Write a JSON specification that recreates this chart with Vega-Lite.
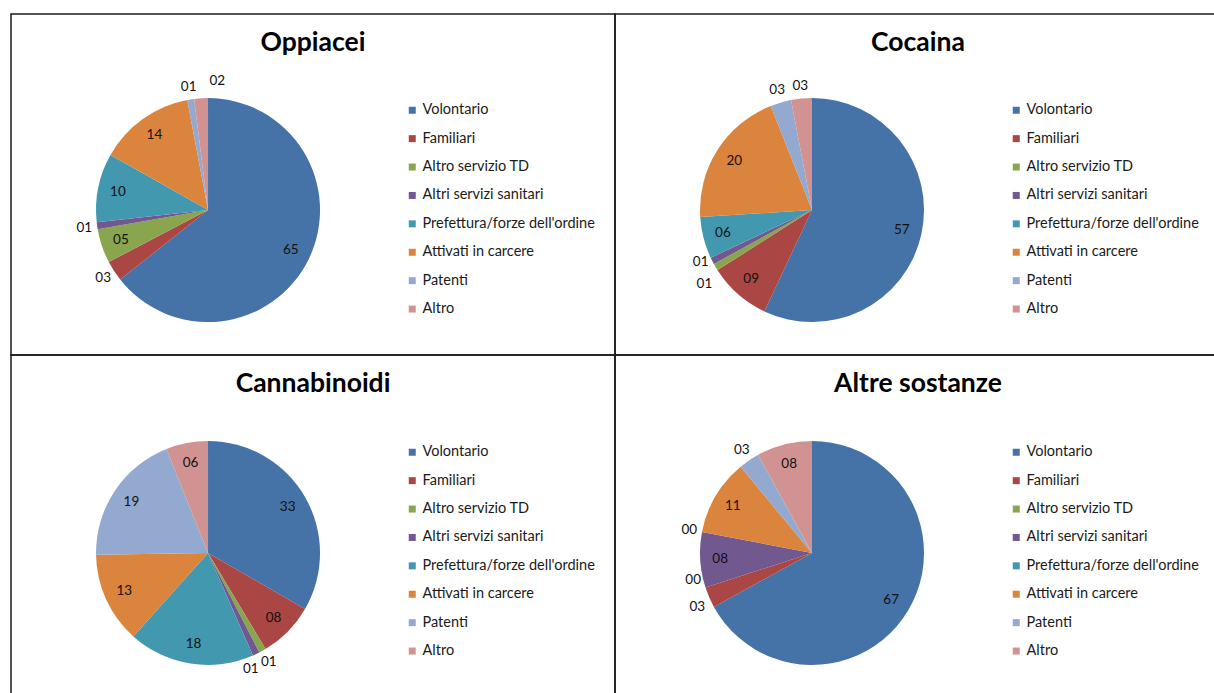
{
  "$schema": "https://vega.github.io/schema/vega-lite/v6.json",
  "background": "white",
  "padding": {"left": 10, "top": 13, "right": 0, "bottom": 0},
  "autosize": {"type": "pad"},
  "datasets": {
    "invii": [
      {"sostanza": "Oppiacei", "n": 1, "fonte": "Volontario", "valore": 65},
      {"sostanza": "Oppiacei", "n": 2, "fonte": "Familiari", "valore": 3},
      {"sostanza": "Oppiacei", "n": 3, "fonte": "Altro servizio TD", "valore": 5},
      {"sostanza": "Oppiacei", "n": 4, "fonte": "Altri servizi sanitari", "valore": 1},
      {"sostanza": "Oppiacei", "n": 5, "fonte": "Prefettura/forze dell'ordine", "valore": 10},
      {"sostanza": "Oppiacei", "n": 6, "fonte": "Attivati in carcere", "valore": 14},
      {"sostanza": "Oppiacei", "n": 7, "fonte": "Patenti", "valore": 1},
      {"sostanza": "Oppiacei", "n": 8, "fonte": "Altro", "valore": 2},
      {"sostanza": "Cocaina", "n": 1, "fonte": "Volontario", "valore": 57},
      {"sostanza": "Cocaina", "n": 2, "fonte": "Familiari", "valore": 9},
      {"sostanza": "Cocaina", "n": 3, "fonte": "Altro servizio TD", "valore": 1},
      {"sostanza": "Cocaina", "n": 4, "fonte": "Altri servizi sanitari", "valore": 1},
      {"sostanza": "Cocaina", "n": 5, "fonte": "Prefettura/forze dell'ordine", "valore": 6},
      {"sostanza": "Cocaina", "n": 6, "fonte": "Attivati in carcere", "valore": 20},
      {"sostanza": "Cocaina", "n": 7, "fonte": "Patenti", "valore": 3},
      {"sostanza": "Cocaina", "n": 8, "fonte": "Altro", "valore": 3},
      {"sostanza": "Cannabinoidi", "n": 1, "fonte": "Volontario", "valore": 33},
      {"sostanza": "Cannabinoidi", "n": 2, "fonte": "Familiari", "valore": 8},
      {"sostanza": "Cannabinoidi", "n": 3, "fonte": "Altro servizio TD", "valore": 1},
      {"sostanza": "Cannabinoidi", "n": 4, "fonte": "Altri servizi sanitari", "valore": 1},
      {"sostanza": "Cannabinoidi", "n": 5, "fonte": "Prefettura/forze dell'ordine", "valore": 18},
      {"sostanza": "Cannabinoidi", "n": 6, "fonte": "Attivati in carcere", "valore": 13},
      {"sostanza": "Cannabinoidi", "n": 7, "fonte": "Patenti", "valore": 19},
      {"sostanza": "Cannabinoidi", "n": 8, "fonte": "Altro", "valore": 6},
      {"sostanza": "Altre sostanze", "n": 1, "fonte": "Volontario", "valore": 67},
      {"sostanza": "Altre sostanze", "n": 2, "fonte": "Familiari", "valore": 3},
      {"sostanza": "Altre sostanze", "n": 3, "fonte": "Altro servizio TD", "valore": 0},
      {"sostanza": "Altre sostanze", "n": 4, "fonte": "Altri servizi sanitari", "valore": 8},
      {"sostanza": "Altre sostanze", "n": 5, "fonte": "Prefettura/forze dell'ordine", "valore": 0},
      {"sostanza": "Altre sostanze", "n": 6, "fonte": "Attivati in carcere", "valore": 11},
      {"sostanza": "Altre sostanze", "n": 7, "fonte": "Patenti", "valore": 3},
      {"sostanza": "Altre sostanze", "n": 8, "fonte": "Altro", "valore": 8}
    ]
  },
  "columns": 2,
  "spacing": 0,
  "bounds": "flush",
  "align": "each",
  "resolve": {
    "scale": {"color": "independent", "theta": "independent", "x": "independent", "y": "independent"},
    "legend": {"color": "independent"}
  },
  "config": {
    "font": "Lato",
    "view": {"stroke": "#1a1a1a", "strokeWidth": 1.5},
    "title": {"fontSize": 26.5, "fontWeight": "bold", "color": "#000000", "anchor": "middle", "frame": "group", "offset": -42},
    "legend": {
      "orient": "none",
      "title": null,
      "symbolType": "square",
      "symbolSize": 49,
      "symbolStrokeWidth": 0,
      "labelFontSize": 14.5,
      "labelColor": "#1a1a1a",
      "labelOffset": 3,
      "labelLimit": 0,
      "rowPadding": 13.4,
      "padding": 0
    },
    "text": {"fontSize": 13.5, "color": "#111111"}
  },
  "concat": [
    {
      "width": 604,
      "height": 341,
      "title": "Oppiacei",
      "data": {"name": "invii"},
      "transform": [{"filter": "datum.sostanza === 'Oppiacei'"}],
      "encoding": {
        "x": {"datum": 0.3262, "type": "quantitative", "scale": {"domain": [0, 1]}, "axis": null},
        "y": {"datum": 0.575, "type": "quantitative", "scale": {"domain": [0, 1], "reverse": true}, "axis": null},
        "theta": {"field": "valore", "type": "quantitative", "stack": true},
        "order": {"field": "n", "type": "quantitative"}
      },
      "layer": [
        {
          "mark": {"type": "arc", "outerRadius": 112},
          "encoding": {
            "color": {
              "field": "fonte", "type": "nominal",
              "scale": {
                "domain": ["Volontario", "Familiari", "Altro servizio TD", "Altri servizi sanitari", "Prefettura/forze dell'ordine", "Attivati in carcere", "Patenti", "Altro"],
                "range": ["#4572A7", "#AA4643", "#89A54E", "#71588F", "#4198AF", "#DB843D", "#93A9CF", "#D19392"]
              },
              "legend": {"legendX": 394, "legendY": 89}
            }
          }
        },
        {
          "mark": {"type": "text", "radius": 92},
          "encoding": {
            "detail": {"field": "fonte"},
            "text": {"field": "valore", "type": "quantitative", "format": "02d"},
            "opacity": {"condition": {"test": "datum.valore >= 5", "value": 1}, "value": 0}
          }
        },
        {
          "mark": {"type": "text", "radius": 125,
            "dx": {"expr": "datum.fonte === 'Altro' ? 17 : 0"},
            "dy": {"expr": "datum.fonte === 'Altro' ? -4 : 0"}},
          "encoding": {
            "detail": {"field": "fonte"},
            "text": {"field": "valore", "type": "quantitative", "format": "02d"},
            "opacity": {"condition": {"test": "datum.valore < 5", "value": 1}, "value": 0}
          }
        }
      ]
    },
    {
      "width": 606,
      "height": 341,
      "title": "Cocaina",
      "data": {"name": "invii"},
      "transform": [{"filter": "datum.sostanza === 'Cocaina'"}],
      "encoding": {
        "x": {"datum": 0.3251, "type": "quantitative", "scale": {"domain": [0, 1]}, "axis": null},
        "y": {"datum": 0.575, "type": "quantitative", "scale": {"domain": [0, 1], "reverse": true}, "axis": null},
        "theta": {"field": "valore", "type": "quantitative", "stack": true},
        "order": {"field": "n", "type": "quantitative"}
      },
      "layer": [
        {
          "mark": {"type": "arc", "outerRadius": 112},
          "encoding": {
            "color": {
              "field": "fonte", "type": "nominal",
              "scale": {
                "domain": ["Volontario", "Familiari", "Altro servizio TD", "Altri servizi sanitari", "Prefettura/forze dell'ordine", "Attivati in carcere", "Patenti", "Altro"],
                "range": ["#4572A7", "#AA4643", "#89A54E", "#71588F", "#4198AF", "#DB843D", "#93A9CF", "#D19392"]
              },
              "legend": {"legendX": 394, "legendY": 89}
            }
          }
        },
        {
          "mark": {"type": "text", "radius": 92},
          "encoding": {
            "detail": {"field": "fonte"},
            "text": {"field": "valore", "type": "quantitative", "format": "02d"},
            "opacity": {"condition": {"test": "datum.valore >= 5", "value": 1}, "value": 0}
          }
        },
        {
          "mark": {"type": "text", "radius": 125,
            "dy": {"expr": "datum.fonte === 'Altro servizio TD' ? 10 : datum.fonte === 'Altri servizi sanitari' ? -5 : 0"}},
          "encoding": {
            "detail": {"field": "fonte"},
            "text": {"field": "valore", "type": "quantitative", "format": "02d"},
            "opacity": {"condition": {"test": "datum.valore < 5", "value": 1}, "value": 0}
          }
        }
      ]
    },
    {
      "width": 604,
      "height": 339,
      "title": "Cannabinoidi",
      "data": {"name": "invii"},
      "transform": [{"filter": "datum.sostanza === 'Cannabinoidi'"}],
      "encoding": {
        "x": {"datum": 0.3262, "type": "quantitative", "scale": {"domain": [0, 1]}, "axis": null},
        "y": {"datum": 0.584, "type": "quantitative", "scale": {"domain": [0, 1], "reverse": true}, "axis": null},
        "theta": {"field": "valore", "type": "quantitative", "stack": true},
        "order": {"field": "n", "type": "quantitative"}
      },
      "layer": [
        {
          "mark": {"type": "arc", "outerRadius": 112},
          "encoding": {
            "color": {
              "field": "fonte", "type": "nominal",
              "scale": {
                "domain": ["Volontario", "Familiari", "Altro servizio TD", "Altri servizi sanitari", "Prefettura/forze dell'ordine", "Attivati in carcere", "Patenti", "Altro"],
                "range": ["#4572A7", "#AA4643", "#89A54E", "#71588F", "#4198AF", "#DB843D", "#93A9CF", "#D19392"]
              },
              "legend": {"legendX": 394, "legendY": 90}
            }
          }
        },
        {
          "mark": {"type": "text", "radius": 92},
          "encoding": {
            "detail": {"field": "fonte"},
            "text": {"field": "valore", "type": "quantitative", "format": "02d"},
            "opacity": {"condition": {"test": "datum.valore >= 5", "value": 1}, "value": 0}
          }
        },
        {
          "mark": {"type": "text", "radius": 125,
            "dx": {"expr": "datum.fonte === 'Altri servizi sanitari' ? -11 : 0"},
            "dy": {"expr": "datum.fonte === 'Altri servizi sanitari' ? 3 : 0"}},
          "encoding": {
            "detail": {"field": "fonte"},
            "text": {"field": "valore", "type": "quantitative", "format": "02d"},
            "opacity": {"condition": {"test": "datum.valore < 5", "value": 1}, "value": 0}
          }
        }
      ]
    },
    {
      "width": 606,
      "height": 339,
      "title": "Altre sostanze",
      "data": {"name": "invii"},
      "transform": [{"filter": "datum.sostanza === 'Altre sostanze'"}],
      "encoding": {
        "x": {"datum": 0.3251, "type": "quantitative", "scale": {"domain": [0, 1]}, "axis": null},
        "y": {"datum": 0.584, "type": "quantitative", "scale": {"domain": [0, 1], "reverse": true}, "axis": null},
        "theta": {"field": "valore", "type": "quantitative", "stack": true},
        "order": {"field": "n", "type": "quantitative"}
      },
      "layer": [
        {
          "mark": {"type": "arc", "outerRadius": 112},
          "encoding": {
            "color": {
              "field": "fonte", "type": "nominal",
              "scale": {
                "domain": ["Volontario", "Familiari", "Altro servizio TD", "Altri servizi sanitari", "Prefettura/forze dell'ordine", "Attivati in carcere", "Patenti", "Altro"],
                "range": ["#4572A7", "#AA4643", "#89A54E", "#71588F", "#4198AF", "#DB843D", "#93A9CF", "#D19392"]
              },
              "legend": {"legendX": 394, "legendY": 90}
            }
          }
        },
        {
          "mark": {"type": "text", "radius": 92},
          "encoding": {
            "detail": {"field": "fonte"},
            "text": {"field": "valore", "type": "quantitative", "format": "02d"},
            "opacity": {"condition": {"test": "datum.valore >= 5", "value": 1}, "value": 0}
          }
        },
        {
          "mark": {"type": "text", "radius": 125,
            "dy": {"expr": "datum.fonte === 'Altro servizio TD' ? -12 : datum.fonte === 'Familiari' ? 4 : 0"}},
          "encoding": {
            "detail": {"field": "fonte"},
            "text": {"field": "valore", "type": "quantitative", "format": "02d"},
            "opacity": {"condition": {"test": "datum.valore < 5", "value": 1}, "value": 0}
          }
        }
      ]
    }
  ]
}
